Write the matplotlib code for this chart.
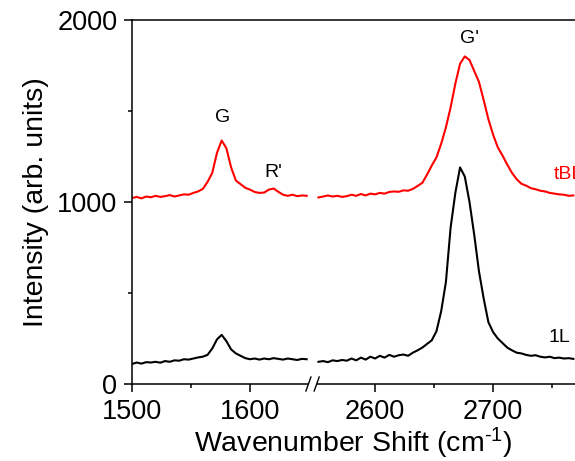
import numpy as np
import matplotlib
matplotlib.use("Agg")
import matplotlib.pyplot as plt

plt.rcParams['font.family'] = ['Liberation Sans', 'DejaVu Sans']
plt.rcParams['mathtext.fontset'] = 'custom'
plt.rcParams['mathtext.rm'] = 'Liberation Sans'
plt.rcParams['mathtext.default'] = 'regular'

# ---- data (wavenumber, cm^-1) ----
x_left = np.arange(1500, 1649, 4)
x_right = np.arange(2552, 2769, 4)

tbl_left = [1022, 1028, 1020, 1030, 1026, 1034, 1028, 1032, 1038, 1030,
            1036, 1042, 1040, 1050, 1058, 1072, 1110, 1160, 1270, 1338,
            1295, 1190, 1118, 1098, 1078, 1068, 1055, 1050, 1052, 1068,
            1074, 1056, 1040, 1034, 1040, 1032, 1036, 1034]
tbl_right = [1025, 1030, 1036, 1030, 1034, 1028, 1032, 1040, 1034, 1044,
             1036, 1046, 1042, 1050, 1046, 1055, 1058, 1056, 1064, 1062,
             1072, 1088, 1105, 1150, 1200, 1245, 1320, 1410, 1520, 1650,
             1760, 1800, 1780, 1720, 1660, 1560, 1455, 1370, 1300, 1255,
             1205, 1160, 1125, 1100, 1090, 1076, 1070, 1062, 1058, 1050,
             1046, 1042, 1040, 1034, 1036]

one_left = [110, 118, 112, 120, 118, 122, 117, 126, 122, 130,
            128, 136, 134, 140, 146, 150, 160, 195, 245, 270,
            235, 190, 168, 155, 142, 136, 140, 134, 140, 136,
            142, 138, 134, 140, 136, 132, 138, 136]
one_right = [122, 126, 120, 130, 126, 132, 128, 140, 130, 145,
             134, 150, 140, 155, 145, 160, 150, 158, 162, 155,
             172, 185, 200, 220, 240, 290, 400, 560, 860, 1050,
             1190, 1140, 1000, 820, 620, 470, 340, 285, 250, 225,
             200, 185, 172, 168, 160, 155, 158, 150, 146, 150,
             142, 145, 140, 142, 138]

x_ticks_left = [1500, 1600]
x_ticks_right = [2600, 2700]
y_ticks = [0, 1000, 2000]

SHIFT = 894  # compress the broken x-axis gap


def to_axis(x):
    x = np.asarray(x, dtype=float)
    return np.where(x > 2000, x - SHIFT, x)


fig = plt.figure(figsize=(5.75, 4.61), dpi=100)
ax = fig.add_axes([132 / 575, 77 / 461, 1 - 132 / 575, 364 / 461])

lw = 1.5
ax.plot(to_axis(x_left), tbl_left, color='red', lw=lw)
ax.plot(to_axis(x_right), tbl_right, color='red', lw=lw)
ax.plot(to_axis(x_left), one_left, color='black', lw=lw)
ax.plot(to_axis(x_right), one_right, color='black', lw=lw)

ax.set_xlim(1500, 1875.4)
ax.set_ylim(0, 2000)

major_x = list(x_ticks_left) + list(x_ticks_right)
ax.set_xticks(to_axis(major_x))
ax.set_xticklabels([str(v) for v in major_x])
ax.set_xticks(to_axis([1550, 2650, 2750]), minor=True)
ax.set_yticks(y_ticks)
ax.set_yticks([500, 1500], minor=True)

ax.tick_params(which='major', direction='out', length=5.5, width=1.1,
               labelsize=19.5)
ax.tick_params(which='minor', direction='out', length=3, width=1.1)
ax.tick_params(axis='x', which='both', top=False, pad=5)
ax.tick_params(axis='y', which='both', right=False, pad=5)

for s in ['left', 'top']:
    ax.spines[s].set_linewidth(1.1)
ax.spines['right'].set_visible(False)
ax.spines['bottom'].set_visible(False)

# bottom axis with break marks
bl, br = 1649.5, 1656.5
xa = lambda v: (v - 1500) / (1875.4 - 1500)
ax.plot([0, xa(bl)], [0, 0], transform=ax.transAxes, color='black',
        lw=1.1, clip_on=False, solid_capstyle='butt')
ax.plot([xa(br), 1], [0, 0], transform=ax.transAxes, color='black',
        lw=1.1, clip_on=False, solid_capstyle='butt')
dy = 7 / 364
dx = 2.5 / 443
for c in (bl, br):
    ax.plot([xa(c) - dx, xa(c) + dx], [-dy, dy], transform=ax.transAxes,
            color='black', lw=1.0, clip_on=False)

ax.set_ylabel('Intensity (arb. units)', fontsize=20.5, labelpad=6)
ax.set_xlabel(r'Wavenumber Shift (cm$^{\text{-}1}$)', fontsize=20.5,
              labelpad=1)

fs = 14
ax.text(to_axis(1577), 1464, 'G', ha='center', va='center', fontsize=fs)
ax.text(to_axis(1620), 1160, "R'", ha='center', va='center', fontsize=fs)
ax.text(to_axis(2680), 1900, "G'", ha='center', va='center', fontsize=fs)
ax.text(to_axis(2751), 1149, 'tBL', ha='left', va='center', fontsize=fs,
        color='red', clip_on=False)
ax.text(to_axis(2747), 254, '1L', ha='left', va='center', fontsize=fs)

fig.savefig('out.png', dpi=100)
